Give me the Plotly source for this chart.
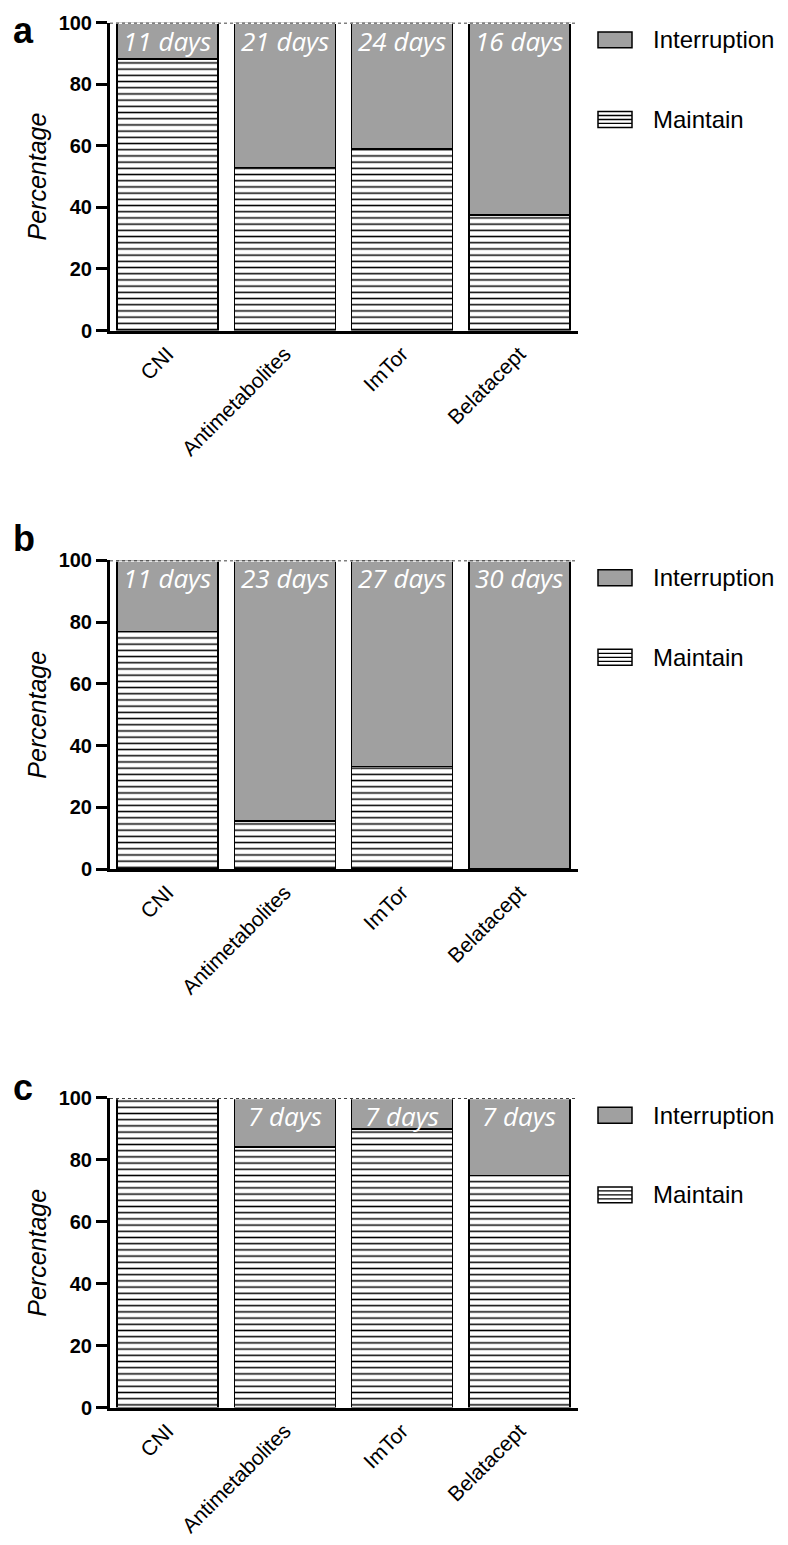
import plotly.graph_objects as go

# ---------------- data ----------------
categories = ["CNI", "Antimetabolites", "ImTor", "Belatacept"]

maintain_a = [88.2, 53.0, 58.9, 37.5]
interruption_a = [11.8, 47.0, 41.1, 62.5]
days_a = ["11 days", "21 days", "24 days", "16 days"]

maintain_b = [77.0, 15.6, 33.3, 0.0]
interruption_b = [23.0, 84.4, 66.7, 100.0]
days_b = ["11 days", "23 days", "27 days", "30 days"]

maintain_c = [100.0, 84.2, 90.0, 75.0]
interruption_c = [0.0, 15.8, 10.0, 25.0]
days_c = ["", "7 days", "7 days", "7 days"]

panel_letters = ["a", "b", "c"]
y_ticks = [0, 20, 40, 60, 80, 100]
series_names = ["Interruption", "Maintain"]

# ---------------- layout helpers ----------------
PAGE_W, PAGE_H = 788, 1545
BODY = 8  # default body margin of the html page
W, H = PAGE_W - 2 * BODY, PAGE_H - 2 * BODY


def fx(p):
    return (p - BODY) / W


def fy(p):
    return 1 - (p - BODY) / H


GRAY = "#a0a0a0"
FONT = "Arial, Liberation Sans, Helvetica, sans-serif"
panels = [
    dict(maint=maintain_a, inter=interruption_a, days=days_a, top=22.7, bottom=332.0,
         letter_y=8, letter_anchor="top"),
    dict(maint=maintain_b, inter=interruption_b, days=days_b, top=563.0, bottom=873.0,
         letter_y=541, letter_anchor="middle"),
    dict(maint=maintain_c, inter=interruption_c, days=days_c, top=1103.0, bottom=1414.0,
         letter_y=1092, letter_anchor="middle"),
]

fig = go.Figure()
shapes = []
annotations = []
layout_axes = {}

for i, p in enumerate(panels):
    n = "" if i == 0 else str(i + 1)
    xa, ya = "x" + n, "y" + n
    fig.add_trace(go.Bar(
        x=categories, y=p["maint"], name=series_names[1], xaxis=xa, yaxis=ya,
        marker=dict(color="white",
                    pattern=dict(shape="-", fgcolor="black", bgcolor="white",
                                 size=6.2, solidity=0.24, fillmode="replace"),
                    line=dict(color="black", width=1.5)),
        showlegend=False, hoverinfo="skip",
    ))
    fig.add_trace(go.Bar(
        x=categories, y=p["inter"], name=series_names[0], xaxis=xa, yaxis=ya,
        marker=dict(color=GRAY, line=dict(color="black", width=1.5)),
        showlegend=False, hoverinfo="skip",
    ))

    layout_axes["xaxis" + n] = dict(
        domain=[fx(110), fx(578)], anchor=ya, range=[-0.49, 3.5],
        showline=True, linewidth=3, linecolor="black", ticks="",
        tickangle=-45, tickfont=dict(family=FONT, size=21, color="black"),
        showgrid=False, zeroline=False, fixedrange=True,
    )
    layout_axes["yaxis" + n] = dict(
        domain=[fy(p["bottom"]), fy(p["top"])], anchor=xa, range=[0, 100],
        tickvals=y_ticks, showline=True, linewidth=3, linecolor="black",
        ticks="outside", ticklen=11, tickwidth=3, tickcolor="black",
        tickfont=dict(family=FONT, size=20, color="black", weight="bold"),
        title=dict(text="Percentage", standoff=5,
                   font=dict(family=FONT, size=25, color="black", style="italic")),
        showgrid=False, zeroline=False, fixedrange=True, automargin=False,
    )

    # dashed top line at 100 %
    shapes.append(dict(type="line", xref=xa + " domain", yref=ya, x0=0, x1=1, y0=100, y1=100,
                       line=dict(color="white", width=2.5), layer="above"))
    shapes.append(dict(type="line", xref=xa + " domain", yref=ya, x0=0, x1=1, y0=100, y1=100,
                       line=dict(color="black", width=1.5, dash="dot"), layer="above"))

    # day labels
    for cat, txt in zip(categories, p["days"]):
        if txt:
            annotations.append(dict(
                x=cat, y=100, xref=xa, yref=ya, text=txt, showarrow=False,
                yanchor="top", xanchor="center", yshift=2,
                font=dict(family="Open Sans, sans-serif", size=26, color="white", style="italic"),
            ))

    # panel letter
    annotations.append(dict(
        x=fx(11), y=fy(p["letter_y"]), xref="paper", yref="paper", text=panel_letters[i],
        showarrow=False, xanchor="left", yanchor=p["letter_anchor"],
        font=dict(family=FONT, size=36, color="black", weight="bold"),
    ))

    # legend (drawn)
    yd = ya + " domain"
    h = p["bottom"] - p["top"]

    def d(off):
        return 1 - off / h

    shapes.append(dict(type="rect", xref="paper", yref=yd, x0=fx(598), x1=fx(632),
                       y0=d(25.3), y1=d(9.3), fillcolor=GRAY, line=dict(color="black", width=1.5)))
    shapes.append(dict(type="rect", xref="paper", yref=yd, x0=fx(598), x1=fx(632),
                       y0=d(105.3), y1=d(89.3), fillcolor="white", line=dict(color="black", width=1.5)))
    for off in (93.3, 97.3, 101.3):
        shapes.append(dict(type="line", xref="paper", yref=yd, x0=fx(598), x1=fx(632),
                           y0=d(off), y1=d(off), line=dict(color="black", width=1.3)))
    annotations.append(dict(x=fx(651), y=d(17.3), xref="paper", yref=yd, text=series_names[0],
                            showarrow=False, xanchor="left", yanchor="middle",
                            font=dict(family=FONT, size=24, color="black")))
    annotations.append(dict(x=fx(651), y=d(97.3), xref="paper", yref=yd, text=series_names[1],
                            showarrow=False, xanchor="left", yanchor="middle",
                            font=dict(family=FONT, size=24, color="black")))

fig.update_layout(
    width=W, height=H, autosize=False,
    margin=dict(l=0, r=0, t=0, b=0),
    paper_bgcolor="white", plot_bgcolor="white",
    barmode="stack", bargap=0.139,
    shapes=shapes, annotations=annotations,
    showlegend=False,
    **layout_axes,
)

fig.write_html("out.html", config={"displayModeBar": False})
